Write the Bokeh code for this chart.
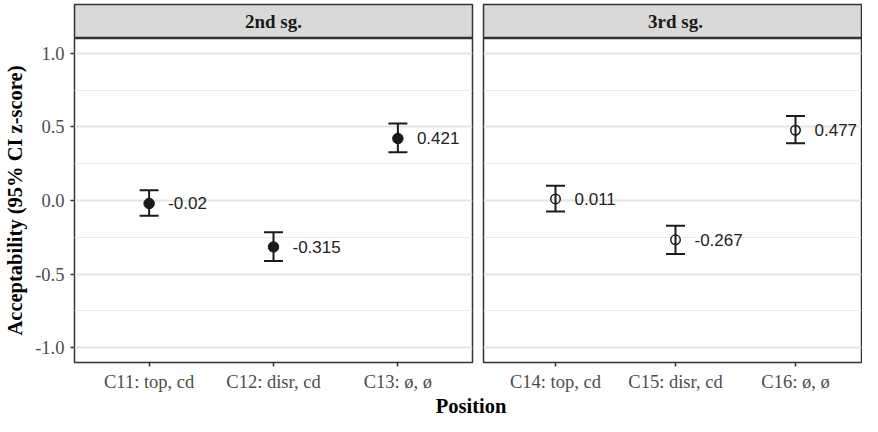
from bokeh.plotting import figure
from bokeh.layouts import column, row
from bokeh.models import Range1d, FixedTicker, Label
from bokeh.core.properties import value
from bokeh.embed import file_html
from bokeh.resources import INLINE

# ---------------- data ----------------
panel_titles = ["2nd sg.", "3rd sg."]
categories_2sg = ["C11: top, cd", "C12: disr, cd", "C13: ø, ø"]
categories_3sg = ["C14: top, cd", "C15: disr, cd", "C16: ø, ø"]
means_2sg = [-0.02, -0.315, 0.421]
means_3sg = [0.011, -0.267, 0.477]
ci_lo_2sg = [-0.104, -0.411, 0.327]
ci_hi_2sg = [0.069, -0.216, 0.522]
ci_lo_3sg = [-0.075, -0.364, 0.389]
ci_hi_3sg = [0.100, -0.172, 0.574]
y_ticks = [-1.0, -0.5, 0.0, 0.5, 1.0]
y_tick_labels = ["-1.0", "-0.5", "0.0", "0.5", "1.0"]
y_minor_ticks = [-0.75, -0.25, 0.25, 0.75]
x_title = "Position"
y_title = "Acceptability (95% CI z-score)"

# ---------------- layout constants ----------------
W_TOTAL, H_TOTAL = 862, 416
LEFT, W1, R1 = 74, 398, 5
L2, R2 = 6, 1
P1_W = LEFT + W1 + R1
P2_W = W_TOTAL - P1_W
W2 = P2_W - L2 - R2
X_LO, X_HI = 0.4, 3.6
X2_HI = 3.55
Y_LO, Y_HI = -1.1, 1.1
STRIP_TOP = 4
STRIP_FRAME = 34
STRIP_H = STRIP_TOP + STRIP_FRAME
BOTTOM = 28
TITLE_H = 22
P_H = H_TOTAL - STRIP_H - TITLE_H

INK = "#1a1a1a"
SERIF = "Liberation Serif"
SANS = "Liberation Sans"


def strip(title, x_range, width, left, right):
    s = figure(width=width, height=STRIP_H, x_range=x_range, y_range=Range1d(0, 1),
               x_axis_type=None, y_axis_type=None, toolbar_location=None,
               output_backend="svg", title=None,
               min_border_left=left, min_border_right=right,
               min_border_top=STRIP_TOP, min_border_bottom=0)
    s.background_fill_color = "#d9d9d9"
    s.border_fill_color = "white"
    s.outline_line_color = "#333333"
    s.outline_line_width = 1.5
    s.add_layout(Label(x=(X_LO + X_HI) / 2, y=0.5, text=title, text_align="center",
                       text_baseline="middle", text_font=SERIF, text_font_style="bold",
                       text_font_size="19px", text_color=INK))
    return s


def panel(cats, means, lo, hi, filled, x_range, width, left, right, show_y):
    p = figure(width=width, height=P_H, x_range=x_range, y_range=Range1d(Y_LO, Y_HI),
               toolbar_location=None, output_backend="svg", title=None,
               min_border_left=left, min_border_right=right,
               min_border_top=0, min_border_bottom=BOTTOM)
    p.background_fill_color = "white"
    p.border_fill_color = "white"
    p.outline_line_color = "#333333"
    p.outline_line_width = 1.5

    xs = [i + 1 for i in range(len(cats))]

    yt = FixedTicker(ticks=y_ticks, minor_ticks=y_minor_ticks)
    p.yaxis.ticker = yt
    p.ygrid.ticker = yt
    p.yaxis.major_label_overrides = dict(zip(y_ticks, y_tick_labels))
    p.ygrid.grid_line_color = "#e4e4e4"
    p.ygrid.grid_line_width = 1.8
    p.ygrid.minor_grid_line_color = "#ececec"
    p.ygrid.minor_grid_line_width = 1
    p.xgrid.grid_line_color = None

    for ax in (p.xaxis[0], p.yaxis[0]):
        ax.axis_line_color = None
        ax.major_tick_line_color = "#333333"
        ax.major_tick_line_width = 1.5
        ax.major_tick_out = 4
        ax.major_tick_in = 0
        ax.minor_tick_out = 0
        ax.minor_tick_in = 0
        ax.major_label_text_font = SERIF
        ax.major_label_text_font_size = "18.5px"
        ax.major_label_text_color = "#4d4d4d"
        ax.major_label_standoff = 5

    p.xaxis.ticker = FixedTicker(ticks=xs)
    p.xaxis.major_label_overrides = dict(zip(xs, cats))

    if show_y:
        p.yaxis.axis_label = y_title
        p.yaxis.axis_label_text_font = SERIF
        p.yaxis.axis_label_text_font_style = "bold"
        p.yaxis.axis_label_text_font_size = "20.5px"
        p.yaxis.axis_label_text_color = "black"
        p.yaxis.axis_label_standoff = 6
        p.yaxis.major_label_standoff = 6
    else:
        p.yaxis.visible = False

    # error bars
    p.segment(x0=xs, y0=lo, x1=xs, y1=hi, line_color=INK, line_width=2)
    p.scatter(x=xs + xs, y=lo + hi, marker="dash", size=19, line_color=INK, line_width=2)
    # points
    if filled:
        p.scatter(x=xs, y=means, size=10.5, fill_color=INK, line_color=INK, line_width=1)
    else:
        p.scatter(x=xs, y=means, size=9.5, fill_color=None, line_color=INK, line_width=1.5)
    # value labels
    p.text(x=xs, y=means, text=[f"{m:g}" for m in means], x_offset=19,
           text_align="left", text_baseline="middle",
           text_font=value(SANS), text_font_size="17px", text_color="#222222")
    return p


xr1 = Range1d(X_LO, X_HI)
xr2 = Range1d(X_LO, X2_HI)

s1 = strip(panel_titles[0], xr1, P1_W, LEFT, R1)
s2 = strip(panel_titles[1], xr2, P2_W, L2, R2)
p1 = panel(categories_2sg, means_2sg, ci_lo_2sg, ci_hi_2sg, True, xr1, P1_W, LEFT, R1, True)
p2 = panel(categories_3sg, means_3sg, ci_lo_3sg, ci_hi_3sg, False, xr2, P2_W, L2, R2, False)

unit2 = W2 / (X2_HI - X_LO)
t = figure(width=W_TOTAL, height=TITLE_H, x_range=Range1d(0, W_TOTAL), y_range=Range1d(0, 1),
           x_axis_type=None, y_axis_type=None, toolbar_location=None, output_backend="svg",
           title=None, min_border=0)
t.outline_line_color = None
t.border_fill_color = "white"
t.background_fill_color = "white"
t.add_layout(Label(x=(LEFT + P1_W + L2 + (X_HI - X_LO) * unit2) / 2, y=0.5, text=x_title,
                   text_align="center", text_baseline="middle", text_font=SERIF,
                   text_font_style="bold", text_font_size="20.5px", text_color="black"))

layout = column(row(s1, s2), row(p1, p2), t)

open("out.html", "w").write(file_html(layout, INLINE))
